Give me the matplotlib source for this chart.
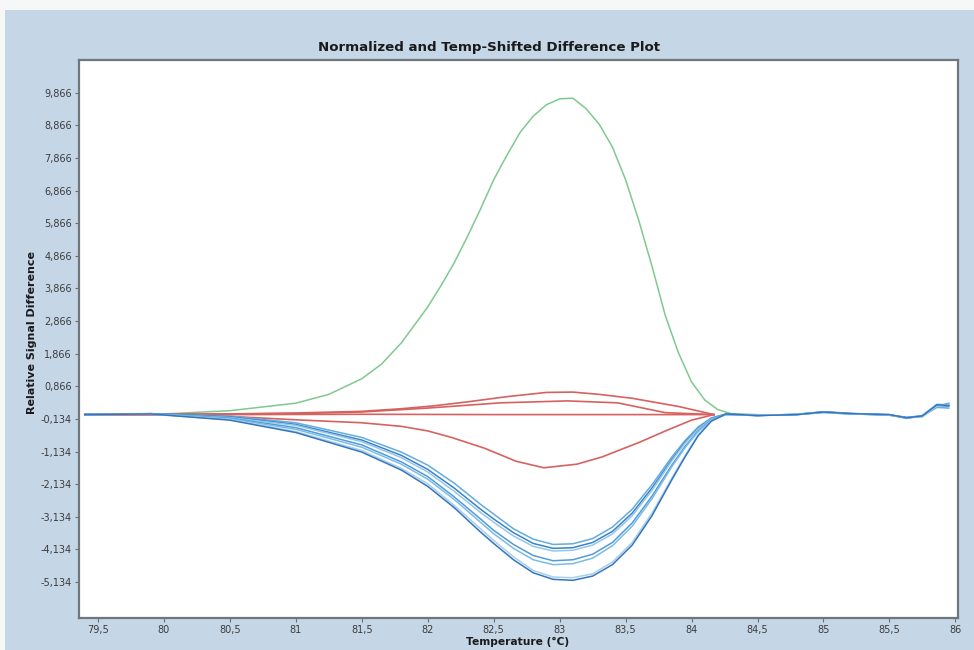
#!/usr/bin/env python3
"""Normalized and temp-shifted difference plot (HRM melt curves)."""
import matplotlib

matplotlib.use("Agg")
import matplotlib.pyplot as plt
from matplotlib.patches import Rectangle

# x ticks / y ticks as printed on the instrument screen
X_TICKS = [79.5, 80.0, 80.5, 81.0, 81.5, 82.0, 82.5, 83.0, 83.5, 84.0, 84.5, 85.0, 85.5, 86.0]
Y_TICKS = [-5.134, -4.134, -3.134, -2.134, -1.134, -0.134, 0.866, 1.866,
           2.866, 3.866, 4.866, 5.866, 6.866, 7.866, 8.866, 9.866]

# green: the outlier sample
GREEN_T = [79.4, 80.0, 80.5, 81.0, 81.25, 81.5, 81.65, 81.8, 81.9, 82.0, 82.1, 82.2,
           82.3, 82.4, 82.5, 82.6, 82.7, 82.8, 82.9, 83.0, 83.1, 83.2, 83.3, 83.4,
           83.5, 83.6, 83.7, 83.8, 83.9, 84.0, 84.1, 84.2, 84.3, 84.5]
GREEN_Y = [0.0, 0.02, 0.12, 0.35, 0.62, 1.1, 1.55, 2.2, 2.75, 3.3, 3.95, 4.65,
           5.45, 6.3, 7.2, 7.95, 8.65, 9.15, 9.5, 9.68, 9.7, 9.38, 8.9, 8.2,
           7.2, 5.95, 4.55, 3.05, 1.9, 1.0, 0.45, 0.15, 0.03, 0.0]

# red group
RED_FLAT_T = [79.4, 80.5, 81.5, 82.5, 83.5, 84.17]
RED_FLAT_Y = [0.0, 0.0, 0.01, 0.0, 0.0, 0.0]
RED_UP_T = [79.4, 80.5, 81.0, 81.5, 81.8, 82.05, 82.3, 82.6, 82.9, 83.1, 83.3, 83.55,
            83.9, 84.17]
RED_UP_Y = [0.0, 0.02, 0.05, 0.1, 0.18, 0.27, 0.39, 0.55, 0.68, 0.69, 0.62, 0.5,
            0.25, 0.0]
RED_MID_T = [79.4, 81.0, 81.5, 82.0, 82.55, 83.06, 83.44, 83.8, 84.17]
RED_MID_Y = [0.0, 0.03, 0.08, 0.2, 0.36, 0.42, 0.36, 0.06, 0.0]
RED_LOW_T = [79.4, 80.28, 81.03, 81.5, 81.8, 82.0, 82.18, 82.43, 82.67, 82.88, 83.13,
             83.32, 83.61, 83.82, 84.0, 84.17]
RED_LOW_Y = [0.0, -0.01, -0.165, -0.25, -0.36, -0.5, -0.7, -1.03, -1.43, -1.63, -1.52,
             -1.3, -0.84, -0.47, -0.17, 0.0]

# blue group, all on one temperature list
BLUE_T = [79.4, 79.9, 80.5, 81.0, 81.5, 81.8, 82.0, 82.2, 82.4, 82.5, 82.65, 82.8,
          82.95, 83.1, 83.25, 83.4, 83.55, 83.7, 83.85, 83.95, 84.05, 84.15, 84.26,
          84.5, 84.8, 85.0, 85.2, 85.5, 85.63, 85.75, 85.86, 85.95]
BLUE_1 = [0.0, 0.03, -0.05, -0.25, -0.7, -1.15, -1.55, -2.1, -2.75, -3.05, -3.5, -3.82,
          -3.98, -3.96, -3.8, -3.45, -2.9, -2.15, -1.3, -0.8, -0.38, -0.1, 0.02,
          -0.02, 0.0, 0.06, 0.02, -0.01, -0.08, -0.04, 0.22, 0.2]
BLUE_2 = [0.0, 0.03, -0.07, -0.3, -0.78, -1.25, -1.68, -2.25, -2.9, -3.2, -3.62, -3.95,
          -4.1, -4.08, -3.92, -3.58, -3.02, -2.25, -1.38, -0.85, -0.42, -0.12, 0.01,
          -0.03, 0.01, 0.08, 0.03, -0.02, -0.1, -0.06, 0.28, 0.26]
BLUE_3 = [0.0, 0.02, -0.09, -0.33, -0.83, -1.32, -1.76, -2.35, -3.0, -3.3, -3.72, -4.04,
          -4.18, -4.16, -4.0, -3.66, -3.1, -2.32, -1.42, -0.88, -0.44, -0.13, 0.0,
          -0.02, 0.0, 0.07, 0.02, 0.0, -0.12, -0.02, 0.32, 0.3]
BLUE_4 = [0.0, 0.02, -0.11, -0.4, -0.93, -1.45, -1.9, -2.52, -3.2, -3.55, -3.98, -4.32,
          -4.48, -4.45, -4.28, -3.92, -3.32, -2.5, -1.55, -0.98, -0.5, -0.15, 0.0,
          -0.03, 0.01, 0.09, 0.04, -0.01, -0.09, -0.05, 0.25, 0.35]
BLUE_5 = [0.0, 0.02, -0.13, -0.45, -1.0, -1.52, -1.98, -2.6, -3.3, -3.65, -4.1, -4.45,
          -4.6, -4.57, -4.4, -4.02, -3.42, -2.58, -1.6, -1.02, -0.52, -0.16, 0.0,
          -0.02, 0.0, 0.08, 0.03, 0.0, -0.11, -0.03, 0.3, 0.28]
BLUE_6 = [0.0, 0.01, -0.15, -0.52, -1.1, -1.65, -2.12, -2.78, -3.5, -3.86, -4.36, -4.78,
          -4.98, -5.0, -4.88, -4.52, -3.92, -3.02, -1.95, -1.26, -0.62, -0.19, 0.0,
          -0.02, 0.01, 0.07, 0.02, -0.01, -0.1, -0.06, 0.26, 0.32]
BLUE_7 = [0.0, 0.02, -0.17, -0.55, -1.15, -1.7, -2.2, -2.85, -3.6, -3.95, -4.45, -4.85,
          -5.05, -5.08, -4.95, -4.6, -4.0, -3.1, -2.0, -1.3, -0.65, -0.2, 0.02,
          -0.03, 0.0, 0.08, 0.03, 0.0, -0.1, -0.04, 0.3, 0.28]

BLUE_COLOURS = ["#62ace0", "#3a82c8", "#94c6ea", "#4f9cd8", "#7bbbe6", "#a9cfe9", "#3475bd"]
GREEN = "#80c98e"
RED = "#d6625f"
PANEL = "#c5d6e6"


def comma(v, nd):
    s = format(v, ".%df" % nd)
    return s.replace(".", ",")


fig = plt.figure(figsize=(9.74, 6.5), dpi=100, facecolor="#f6f8f8")
# blue instrument panel behind the plot (below the axes)
fig.add_artist(Rectangle((5 / 974, 0), 1, 1 - 10 / 650, transform=fig.transFigure,
                         facecolor=PANEL, edgecolor="none", zorder=-5))

ax = fig.add_axes([79 / 974, 1 - 618 / 650, (958 - 79) / 974, (618 - 60) / 650])
ax.set_zorder(2)
ax.set_facecolor("white")

ax.plot(GREEN_T, GREEN_Y, color=GREEN, lw=1.1)
for t, y in [(RED_FLAT_T, RED_FLAT_Y), (RED_UP_T, RED_UP_Y),
             (RED_MID_T, RED_MID_Y), (RED_LOW_T, RED_LOW_Y)]:
    ax.plot(t, y, color=RED, lw=1.2)
for y, c in zip([BLUE_1, BLUE_2, BLUE_3, BLUE_4, BLUE_5, BLUE_6, BLUE_7], BLUE_COLOURS):
    ax.plot(BLUE_T, y, color=c, lw=1.1)

ax.set_xlim(79.356, 86.02)
ax.set_ylim(-6.235, 10.87)

ax.set_xticks(X_TICKS)
ax.set_xticklabels([comma(v, 1) if v % 1 else comma(v, 0) for v in X_TICKS])
ax.set_yticks(Y_TICKS)
ax.set_yticklabels([comma(v, 3) for v in Y_TICKS])
ax.tick_params(length=3, width=0.8, color="#707070", labelsize=7, labelcolor="#3c3c3c", pad=2)

for s in ax.spines.values():
    s.set_color("#6e767e")
    s.set_linewidth(1.6)

fig.text(489 / 974, 1 - 47 / 650, "Normalized and Temp-Shifted Difference Plot",
         ha="center", va="center", fontsize=9.6, fontweight="bold", color="#1a1a1a")
fig.text(32 / 974, 1 - 332 / 650, "Relative Signal Difference", rotation=90,
         ha="center", va="center", fontsize=8.0, fontweight="bold", color="#1a1a1a")
fig.text(518 / 974, 1 - 642 / 650, "Temperature (°C)",
         ha="center", va="center", fontsize=7.7, fontweight="bold", color="#1a1a1a")

fig.savefig("out.png", dpi=100, facecolor=fig.get_facecolor())
